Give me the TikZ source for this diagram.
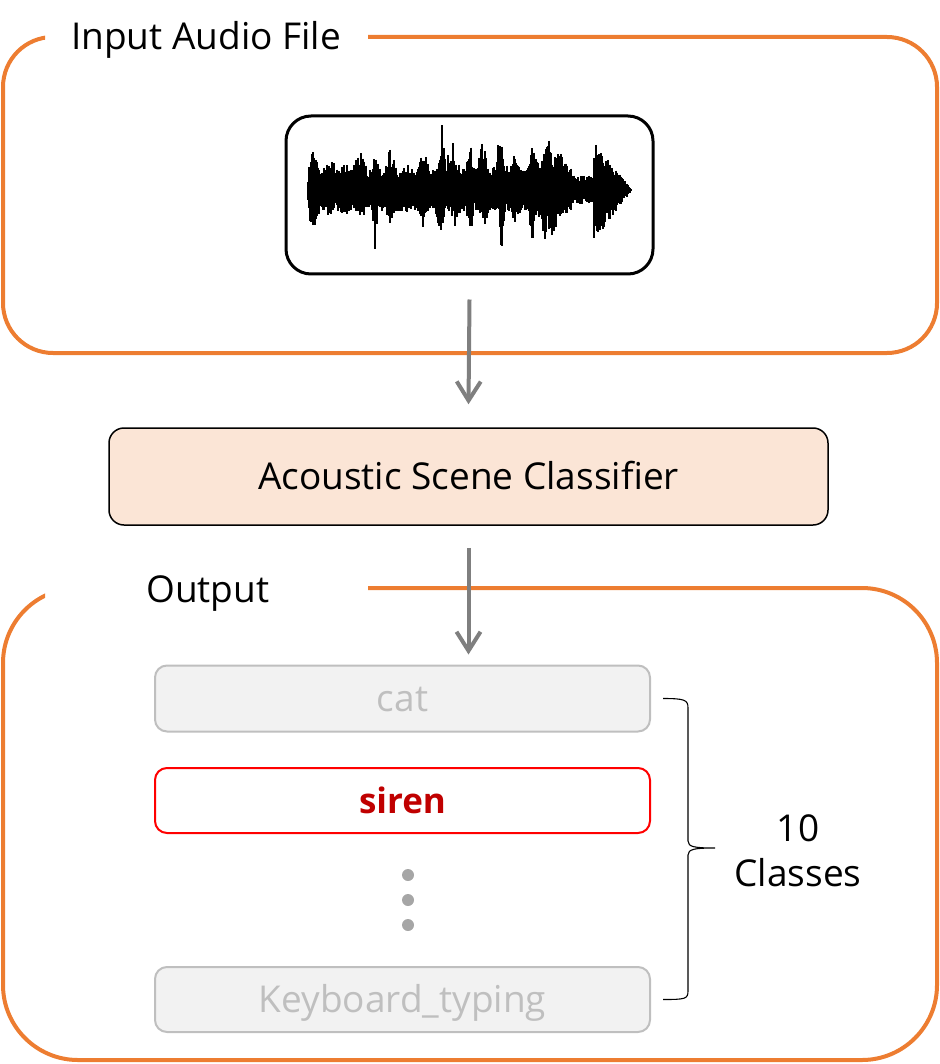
\documentclass[tikz,border=0pt]{standalone}
\usepackage{fontspec}
\setmainfont{Open Sans}
\usetikzlibrary{arrows.meta}
\definecolor{frameorange}{HTML}{ED7D31}
\definecolor{arrgray}{HTML}{7F7F7F}
\definecolor{clffill}{HTML}{FBE5D6}
\definecolor{boxfill}{HTML}{F2F2F2}
\definecolor{boxborder}{HTML}{BFBFBF}
\definecolor{boxtext}{HTML}{BFBFBF}
\definecolor{sirenred}{HTML}{FF0000}
\definecolor{sirentext}{HTML}{C00000}
\definecolor{dotgray}{HTML}{A6A6A6}
\newcommand\wvb[3]{#2*max(0,1-abs(\x-#1)/#3)}
\begin{document}
\begin{tikzpicture}[x=1pt,y=-1pt,
  frame/.style={draw=frameorange,line width=4pt},
  arr/.style={draw=arrgray,line width=4pt,-{Straight Barb[length=19pt,width=24pt]}},
  bigtxt/.style={font=\fontsize{37}{45}\selectfont},
  boxtxt/.style={bigtxt,text height=26pt,text depth=0pt},
  classbox/.style={draw=boxborder,fill=boxfill,line width=2pt,rounded corners=12pt,
    minimum width=495pt,minimum height=66pt,text=boxtext,boxtxt},
  dotnode/.style={circle,fill=dotgray,minimum size=12pt,inner sep=0pt}]
\useasboundingbox (0,0) rectangle (939,1064);
% frames
\begin{scope}[even odd rule]
  \clip (-10,-10) rectangle (950,1075) (45,20) rectangle (368,55) (45,570) rectangle (368,600);
  \draw[frame,rounded corners=50pt] (3,37) rectangle (937,353);
  \draw[frame,rounded corners=75pt] (3,588) rectangle (937,1060);
\end{scope}
\node[bigtxt,anchor=base west,inner sep=0pt] (intitle) at (71,50) {Input Audio File};
\node[bigtxt,anchor=base west,inner sep=0pt] (outtitle) at (146,602) {Output};
% waveform box
\node[draw,line width=3pt,rounded corners=25pt,minimum width=367pt,minimum height=158pt] (wave) at (469.5,195) {};
\pgfmathsetseed{23}
\foreach \x in {308,...,632}{
  \pgfmathsetmacro\bs{21*(\x<572)+14*(\x>571)*(\x<594)+(\x>593)*max(0,50*(632-\x)/38)+\wvb{550}{12}{22}}
  \pgfmathsetmacro\ts{min(1,(\x-306)/4)}
  \pgfmathsetmacro\uu{\bs+\wvb{313}{21}{7}+\wvb{330}{12}{7}+\wvb{345}{6}{6}+\wvb{360}{18}{8}+\wvb{375}{18}{5}+\wvb{390}{19}{7}+\wvb{405}{6}{6}+\wvb{423}{19}{8}+\wvb{442}{36}{4}+\wvb{444}{10}{10}+\wvb{453}{26}{7}+\wvb{470}{28}{5}+\wvb{483}{31}{6}+\wvb{500}{41}{4}+\wvb{500}{10}{10}+\wvb{515}{14}{7}+\wvb{532}{20}{6}+\wvb{547}{22}{7}+\wvb{560}{12}{7}+\wvb{600}{6}{6}}
  \pgfmathsetmacro\ll{\bs+\wvb{313}{18}{7}+\wvb{330}{6}{6}+\wvb{345}{6}{6}+\wvb{360}{9}{7}+\wvb{375}{38}{3}+\wvb{390}{11}{6}+\wvb{405}{4}{5}+\wvb{423}{24}{4}+\wvb{440}{28}{5}+\wvb{455}{16}{6}+\wvb{470}{31}{4}+\wvb{485}{16}{6}+\wvb{502}{51}{3}+\wvb{515}{11}{6}+\wvb{532}{42}{3}+\wvb{545}{18}{6}+\wvb{553}{16}{6}}
  \pgfmathsetmacro\ru{\uu*(0.58+0.45*rnd)*\ts}
  \pgfmathsetmacro\rl{\ll*(0.58+0.45*rnd)*\ts}
  \draw[line width=1.15pt] (\x,190-\ru) -- (\x,190+\rl);
}
% classifier
\node[draw,fill=clffill,line width=1.5pt,rounded corners=15pt,minimum width=719pt,minimum height=97pt,boxtxt] (clf) at (468.5,476.5) {Acoustic Scene Classifier};
% classes
\node[classbox] (cat) at (402.5,698.5) {cat};
\node[classbox,draw=sirenred,fill=white,text=sirentext,font=\fontsize{35}{45}\selectfont\bfseries,minimum height=65pt] (siren) at (402.5,800.5) {siren};
\node[dotnode] (d1) at (408,875) {};
\node[dotnode] (d2) at (408,900) {};
\node[dotnode] (d3) at (408,925) {};
\node[classbox,minimum height=65pt] (kb) at (402.5,999.5) {Keyboard\_typing};
% arrows
\draw[arr] ([yshift=-24pt]wave.south) -- ([yshift=23pt]clf.north);
\coordinate (a2end) at ([yshift=10pt]clf.south |- cat.north);
\draw[arr] ([yshift=-22pt]clf.south) -- (a2end);
% brace
\coordinate (b1) at ([xshift=12pt]cat.east);
\coordinate (b2) at ([xshift=12pt]kb.east);
\coordinate (btip) at (715,848);
\draw[line width=1.1pt] (b1) .. controls +(22,0) and +(0,-8) .. (688,708) -- (688,841)
  .. controls +(0,6) and +(-20,0) .. (btip)
  .. controls +(-20,0) and +(0,-6) .. (688,855) -- (688,991)
  .. controls +(0,8) and +(22,0) .. (b2);
\node[bigtxt,align=center] (ncls) at (798,851) {10\\Classes};
\end{tikzpicture}
\end{document}
